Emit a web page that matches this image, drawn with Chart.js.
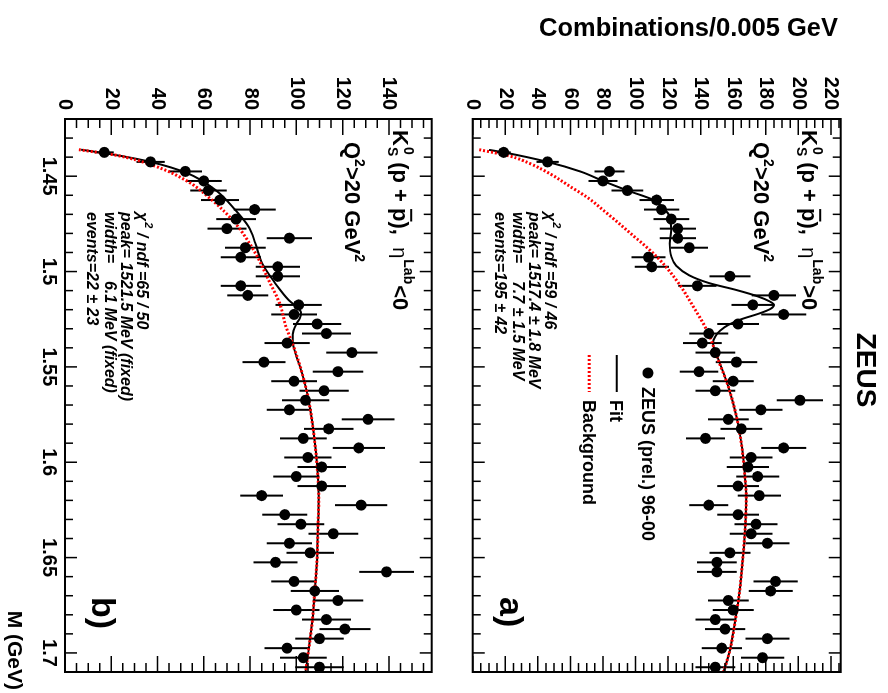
<!DOCTYPE html>
<html>
<head>
<meta charset="utf-8">
<script src="https://cdn.jsdelivr.net/npm/chart.js@4.4.1/dist/chart.umd.min.js"></script>
<style>
  html, body { margin: 0; padding: 0; background: #fff; overflow: hidden; }
  /* the figure is drawn upright and turned a quarter turn clockwise */
  #page { position: absolute; left: 0; top: 0; width: 693px; height: 888px;
          transform-origin: 0 0; transform: translate(888px, 0) rotate(90deg); }
  #chartA { position: absolute; left: 0; top: 0; }
  #chartB { position: absolute; left: 0; top: 410px; }
</style>
</head>
<body>
<div id="page">
  <canvas id="chartA" width="693" height="440"></canvas>
  <canvas id="chartB" width="693" height="478"></canvas>
</div>
<script>
document.addEventListener("DOMContentLoaded", () => {
   const FONT = '"Liberation Sans", Arial, Helvetica, sans-serif';
   Chart.defaults.font.family = FONT;
   Chart.defaults.color = "#000";

   // Bin centres (GeV)
   const massBins = [
      1.4375, 1.4425, 1.4475, 1.4525, 1.4575, 1.4625, 1.4675, 1.4725, 1.4775, 1.4825,
      1.4875, 1.4925, 1.4975, 1.5025, 1.5075, 1.5125, 1.5175, 1.5225, 1.5275, 1.5325,
      1.5375, 1.5425, 1.5475, 1.5525, 1.5575, 1.5625, 1.5675, 1.5725, 1.5775, 1.5825,
      1.5875, 1.5925, 1.5975, 1.6025, 1.6075, 1.6125, 1.6175, 1.6225, 1.6275, 1.6325,
      1.6375, 1.6425, 1.6475, 1.6525, 1.6575, 1.6625, 1.6675, 1.6725, 1.6775, 1.6825,
      1.6875, 1.6925, 1.6975, 1.7025, 1.7075
   ];

   // Panel a) eta_lab > 0
   const countsA = [
      19, 46, 84, 80, 95, 113, 116, 122, 126, 126, 133, 108, 110, 158, 138, 185, 172, 191, 163, 145,
      141, 149, 162, 139, 160, 149, 201, 177, 157, 165, 143, 191, 171, 169, 175, 163, 176, 145, 163, 174,
      171, 181, 158, 150, 150, 186, 183, 157, 160, 149, 155, 181, 153, 178, 149
   ];
   const errorsA = [
      4.4, 6.8, 9.2, 8.9, 9.7, 10.6, 10.8, 11.0, 11.2, 11.2, 11.5, 10.4, 10.5, 12.6, 11.7, 13.6, 13.1, 13.8, 12.8, 12.0,
      11.9, 12.2, 12.7, 11.8, 12.6, 12.2, 14.2, 13.3, 12.5, 12.8, 12.0, 13.8, 13.1, 13.0, 13.2, 12.8, 13.3, 12.0, 12.8, 13.2,
      13.1, 13.5, 12.6, 12.2, 12.2, 13.6, 13.5, 12.5, 12.6, 12.2, 12.4, 13.5, 12.4, 13.3, 12.2
   ];
   const fitMassA = [
      1.4362, 1.4375, 1.4425, 1.4475, 1.4525, 1.4575, 1.4625, 1.4675, 1.4712, 1.4782, 1.4852, 1.4922,
      1.4970, 1.5020, 1.5060, 1.5097, 1.5130, 1.5155, 1.5175, 1.5195, 1.5220, 1.5250, 1.5280, 1.5310,
      1.5340, 1.5376, 1.5429, 1.5604, 1.5761, 1.5900, 1.6058, 1.6180, 1.6320, 1.6495, 1.6670, 1.6845,
      1.6985, 1.7100
   ];
   const fitValA = [
      10, 19, 46, 66, 80, 95, 111, 118, 121, 122, 121, 122,
      125, 133, 145, 162, 175, 182, 185, 183, 176, 165, 157, 152,
      149, 147.5, 149.5, 157, 162, 165, 167, 168, 167.5, 166, 164, 161,
      158, 154
   ];
   const bkgMassA = [
      1.4361, 1.4395, 1.4433, 1.4490, 1.4555, 1.4615, 1.4677, 1.4800, 1.4922, 1.5044, 1.5184, 1.5324,
      1.5446, 1.5604, 1.5761, 1.5900, 1.6058, 1.6180, 1.6320, 1.6495, 1.6670, 1.6845, 1.6985, 1.7100
   ];
   const bkgValA = [
      4, 23, 35, 48, 60, 71, 80, 97, 113, 125, 135.5, 144.7,
      150, 157, 162, 165, 167, 168, 167.5, 166, 164, 161, 158, 154
   ];

   // Panel b) eta_lab < 0
   const countsB = [
      17, 37, 52, 60, 62, 67, 82, 74, 70, 97, 78, 76, 92, 92, 76, 79, 101, 99, 109, 113,
      96, 124, 86, 118, 99, 112, 104, 97, 131, 114, 103, 127, 105, 111, 100, 111, 85, 128, 95, 102,
      116, 97, 106, 91, 139, 99, 108, 118, 100, 113, 121, 110, 96, 103, 110
   ];
   const errorsB = [
      4.1, 6.1, 7.2, 7.7, 7.9, 8.2, 9.1, 8.6, 8.4, 9.8, 8.8, 8.7, 9.6, 9.6, 8.7, 8.9, 10.0, 9.9, 10.4, 10.6,
      9.8, 11.1, 9.3, 10.9, 9.9, 10.6, 10.2, 9.8, 11.4, 10.7, 10.1, 11.3, 10.2, 10.5, 10.0, 10.5, 9.2, 11.3, 9.7, 10.1,
      10.8, 9.8, 10.3, 9.5, 11.8, 9.9, 10.4, 10.9, 10.0, 10.6, 11.0, 10.5, 9.8, 10.1, 10.5
   ];
   const fitMassB = [
      1.4361, 1.4389, 1.4425, 1.4485, 1.4572, 1.4677, 1.4765, 1.4852, 1.4957, 1.5062, 1.5150, 1.5185,
      1.5215, 1.5245, 1.5275, 1.5310, 1.5350, 1.5394, 1.5534, 1.5674, 1.5849, 1.6023, 1.6180, 1.6320,
      1.6495, 1.6670, 1.6845, 1.6985, 1.7100
   ];
   const fitValB = [
      7, 22, 37, 53, 65, 73.6, 79.4, 82.3, 85.2, 90.9, 96.7, 100,
      102, 101.5, 100, 98.8, 98.4, 98.8, 102.5, 105.3, 107.5, 109, 109.7, 109.4,
      109, 108, 106.8, 105.3, 104
   ];
   const bkgMassB = [
      1.4361, 1.4389, 1.4441, 1.4520, 1.4625, 1.4747, 1.4904, 1.5044, 1.5175, 1.5289, 1.5394, 1.5534,
      1.5674, 1.5849, 1.6023, 1.6180, 1.6320, 1.6495, 1.6670, 1.6845, 1.6985, 1.7100
   ];
   const bkgValB = [
      6, 21.6, 37.5, 52, 63.5, 73.6, 82.3, 88, 93, 95.5, 98.8, 102.5,
      105.3, 107.5, 109, 109.7, 109.4, 109, 108, 106.8, 105.3, 104
   ];

   // Tick labels
   const massTicks = [1.45, 1.5, 1.55, 1.6, 1.65, 1.7];
   const yTicksA = [0, 20, 40, 60, 80, 100, 120, 140, 160, 180, 200, 220];
   const yTicksB = [0, 20, 40, 60, 80, 100, 120, 140];

   const toXY = (xs, ys) => xs.map((x, i) => ({ x: x, y: ys[i] }));
   const bold = (size) => `bold ${size}px ${FONT}`;
   const boldItalic = (size) => `italic bold ${size}px ${FONT}`;

   // ROOT-like frame with inward ticks on all four sides
   const rootFrame = {
      id: "rootFrame",
      afterDatasetsDraw(chart) {
         const { ctx, chartArea: a, scales: { x, y } } = chart;
         ctx.save();
         ctx.strokeStyle = "#000";
         ctx.lineWidth = 1.5;
         ctx.beginPath();
         for (let k = 0; k <= 29; k++) {
            const m = 1.42 + k * 0.01;
            const px = x.getPixelForValue(m);
            const len = Math.abs(m * 20 - Math.round(m * 20)) < 1e-6 ? 12 : 8;
            ctx.moveTo(px, a.bottom); ctx.lineTo(px, a.bottom - len);
            ctx.moveTo(px, a.top); ctx.lineTo(px, a.top + len);
         }
         for (let v = 0; v <= y.max; v += 5) {
            const py = y.getPixelForValue(v);
            const len = v % 20 === 0 ? 16 : 9;
            ctx.moveTo(a.left, py); ctx.lineTo(a.left + len, py);
            ctx.moveTo(a.right, py); ctx.lineTo(a.right - len, py);
         }
         ctx.stroke();
         ctx.lineWidth = 2;
         ctx.strokeRect(a.left, a.top, a.right - a.left, a.bottom - a.top);
         ctx.restore();
      }
   };

   // Vertical error bars of the data points
   const errorBars = {
      id: "errorBars",
      beforeDatasetsDraw(chart, args, opts) {
         const { ctx, scales: { x, y } } = chart;
         ctx.save();
         ctx.strokeStyle = "#000";
         ctx.lineWidth = 2;
         ctx.beginPath();
         opts.counts.forEach((v, i) => {
            const px = x.getPixelForValue(massBins[i]);
            ctx.moveTo(px, y.getPixelForValue(v - opts.errors[i]));
            ctx.lineTo(px, y.getPixelForValue(v + opts.errors[i]));
         });
         ctx.stroke();
         ctx.restore();
      }
   };

   function drawReaction(ctx, x, y, sign) {
      let cx = x;
      ctx.font = bold(22);
      ctx.fillText("K", cx, y); cx += ctx.measureText("K").width;
      ctx.font = bold(14);
      ctx.fillText("0", cx + 1, y - 11);
      ctx.fillText("S", cx + 1, y + 5);
      cx += ctx.measureText("S").width + 7;
      ctx.font = bold(22);
      ctx.fillText("(p + ", cx, y); cx += ctx.measureText("(p + ").width;
      const pw = ctx.measureText("p").width;
      ctx.fillText("p", cx, y);
      ctx.fillRect(cx + 1, y - 19, pw - 1, 2);
      cx += pw;
      ctx.fillText("),  ", cx, y); cx += ctx.measureText("),  ").width;
      ctx.font = `20px ${FONT}`;
      ctx.fillText("η", cx, y); cx += ctx.measureText("η").width;
      ctx.font = bold(14);
      ctx.fillText("Lab", cx + 1, y - 11); cx += ctx.measureText("Lab").width + 2;
      ctx.font = bold(22);
      ctx.fillText(sign + "0", cx, y);
   }

   function drawQ2(ctx, x, y) {
      let cx = x;
      ctx.font = bold(22);
      ctx.fillText("Q", cx, y); cx += ctx.measureText("Q").width;
      ctx.font = bold(14);
      ctx.fillText("2", cx, y - 10); cx += ctx.measureText("2").width;
      ctx.font = bold(22);
      ctx.fillText(">20 GeV", cx, y); cx += ctx.measureText(">20 GeV").width;
      ctx.font = bold(14);
      ctx.fillText("2", cx, y - 10);
   }

   function drawFitBox(ctx, x, y, lines) {
      ctx.font = boldItalic(16);
      let cx = x;
      ctx.fillText("χ", cx, y); cx += ctx.measureText("χ").width + 1;
      ctx.font = boldItalic(11);
      ctx.fillText("2", cx, y - 8); cx += ctx.measureText("2").width;
      ctx.font = boldItalic(16);
      ctx.fillText(lines[0], cx, y);
      ctx.fillText(lines[1], x, y + 16);
      ctx.fillText(lines[2], x, y + 32.5);
      ctx.fillText(lines[3], x, y + 50);
   }

   const annotations = {
      id: "annotations",
      afterDraw(chart, args, opts) {
         const { ctx, chartArea: a } = chart;
         ctx.save();
         ctx.fillStyle = "#000";
         ctx.textAlign = "left";
         ctx.textBaseline = "alphabetic";
         drawReaction(ctx, 130, a.top + 38.5, opts.sign);
         drawQ2(ctx, 142, a.top + 87);
         drawFitBox(ctx, 212, a.bottom - 72.5, opts.fitText);
         ctx.font = bold(34);
         ctx.fillText(opts.tag, 597, a.bottom - 27);
         if (opts.top) opts.top(ctx, a);
         if (opts.bottom) opts.bottom(ctx, a);
         ctx.restore();
      }
   };

   function drawTopPanelExtras(ctx, a) {
      // experiment label
      ctx.font = bold(28);
      ctx.textAlign = "center";
      ctx.fillText("ZEUS", 370, 31);
      // y axis title
      ctx.save();
      ctx.translate(36, 50);
      ctx.rotate(-Math.PI / 2);
      ctx.textAlign = "right";
      ctx.font = bold(25.5);
      ctx.fillText("Combinations/0.005 GeV", 0, 0);
      ctx.restore();
      // legend
      ctx.textAlign = "left";
      const y0 = a.top;
      ctx.beginPath();
      ctx.arc(373, y0 + 192.7, 5.5, 0, Math.PI * 2);
      ctx.fill();
      ctx.font = bold(18);
      ctx.fillText("ZEUS (prel.) 96-00", 387, y0 + 198.5);
      ctx.lineWidth = 2;
      ctx.strokeStyle = "#000";
      ctx.beginPath();
      ctx.moveTo(355, y0 + 224); ctx.lineTo(392, y0 + 224);
      ctx.stroke();
      ctx.fillText("Fit", 400, y0 + 230.5);
      ctx.strokeStyle = "#ff0000";
      ctx.lineWidth = 3;
      ctx.setLineDash([2, 2]);
      ctx.beginPath();
      ctx.moveTo(355, y0 + 251.5); ctx.lineTo(392, y0 + 251.5);
      ctx.stroke();
      ctx.setLineDash([]);
      ctx.fillText("Background", 400, y0 + 257.5);
   }

   function drawBottomPanelExtras(ctx) {
      ctx.font = bold(21);
      ctx.textAlign = "right";
      ctx.fillText("M (GeV)", 690, 470);
   }

   function makeChart(id, cfg) {
      return new Chart(document.getElementById(id), {
         type: "scatter",
         data: {
            datasets: [
               {
                  label: "ZEUS (prel.) 96-00",
                  data: toXY(massBins, cfg.counts),
                  pointRadius: 5.5,
                  pointBackgroundColor: "#000",
                  pointBorderColor: "#000",
                  pointBorderWidth: 0,
                  showLine: false
               },
               {
                  label: "Background",
                  data: toXY(cfg.bkgMass, cfg.bkgVal),
                  showLine: true,
                  borderColor: "#ff0000",
                  borderWidth: 3,
                  borderDash: [2, 2],
                  pointRadius: 0,
                  cubicInterpolationMode: "monotone"
               },
               {
                  label: "Fit",
                  data: toXY(cfg.fitMass, cfg.fitVal),
                  showLine: true,
                  borderColor: "#000",
                  borderWidth: 2,
                  pointRadius: 0,
                  cubicInterpolationMode: "monotone"
               }
            ]
         },
         options: {
            responsive: false,
            animation: false,
            layout: { padding: { left: 0, right: 21, top: cfg.padTop, bottom: 0 } },
            plugins: {
               legend: { display: false },
               tooltip: { enabled: false },
               errorBars: { counts: cfg.counts, errors: cfg.errors },
               annotations: cfg.annotations
            },
            scales: {
               x: {
                  type: "linear",
                  min: 1.42,
                  max: 1.71,
                  grid: { display: false, drawTicks: false },
                  border: { display: false },
                  afterBuildTicks: (s) => { s.ticks = massTicks.map(v => ({ value: v })); },
                  afterFit: (s) => { s.height = cfg.xHeight; },
                  ticks: {
                     display: cfg.showMass,
                     padding: 4,
                     maxRotation: 0,
                     autoSkip: false,
                     font: { size: 20, weight: "bold" },
                     callback: (v) => String(Math.round(v * 100) / 100)
                  }
               },
               y: {
                  type: "linear",
                  min: 0,
                  max: cfg.ymax,
                  grid: { display: false, drawTicks: false },
                  border: { display: false },
                  afterBuildTicks: (s) => { s.ticks = cfg.yTicks.map(v => ({ value: v })); },
                  afterFit: (s) => { s.width = 119; },
                  ticks: {
                     padding: 9,
                     font: { size: 20, weight: "bold" },
                     callback: (v) => String(v)
                  }
               }
            }
         },
         plugins: [errorBars, rootFrame, annotations]
      });
   }

   makeChart("chartA", {
      counts: countsA, errors: errorsA,
      fitMass: fitMassA, fitVal: fitValA, bkgMass: bkgMassA, bkgVal: bkgValA,
      yTicks: yTicksA, ymax: 226, padTop: 47.3, xHeight: 24.7, showMass: false,
      annotations: {
         sign: ">", tag: "a)", top: drawTopPanelExtras,
         fitText: [" / ndf =59 / 46", "peak= 1517.4 ± 1.8 MeV", "width=    7.7 ± 1.5 MeV", "events=195 ± 42"]
      }
   });

   makeChart("chartB", {
      counts: countsB, errors: errorsB,
      fitMass: fitMassB, fitVal: fitValB, bkgMass: bkgMassB, bkgVal: bkgValB,
      yTicks: yTicksB, ymax: 158.5, padTop: 46.3, xHeight: 65, showMass: true,
      annotations: {
         sign: "<", tag: "b)", bottom: drawBottomPanelExtras,
         fitText: [" / ndf =65 / 50", "peak= 1521.5 MeV (fixed)", "width=    6.1 MeV (fixed)", "events=22 ± 23"]
      }
   });
});
</script>
</body>
</html>
